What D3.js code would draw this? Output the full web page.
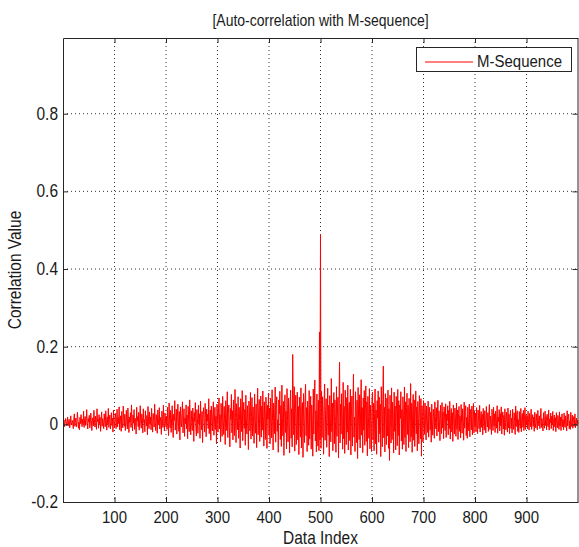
<!DOCTYPE html>
<html>
<head>
<meta charset="utf-8">
<script src="https://cdn.jsdelivr.net/npm/d3@7"></script>
<style>
  html, body { margin: 0; padding: 0; background: #fff; }
  svg text { font-family: "Liberation Sans", Arial, sans-serif; fill: #1a1a1a; }
</style>
</head>
<body>
<svg id="chart"></svg>
<script>
const width = 579;
const height = 547;
const margin = { top: 38, right: 1, bottom: 45, left: 63 };

const title = "[Auto-correlation with M-sequence]";
const xLabel = "Data Index";
const yLabel = "Correlation Value";
const seriesName = "M-Sequence";

const xTicks = [100, 200, 300, 400, 500, 600, 700, 800, 900];
const yTicks = [-0.2, 0, 0.2, 0.4, 0.6, 0.8];
const yTickLabels = ["-0.2", "0", "0.2", "0.4", "0.6", "0.8"];

// correlation values, data index 1..1000
const corr = [
  .004,.011,-.006,.002,.015,.008,-.003,.006,.019,-.004,
  .007,.013,-.009,.001,.022,.005,-.002,.010,.003,-.011,
  .014,.027,-.005,.009,.016,-.007,.004,.031,.012,-.010,
  .006,-.014,.018,.002,.025,.009,-.006,.013,.001,.034,
  -.008,.011,.020,-.003,.007,.038,.004,-.012,.015,.006,
  .023,-.009,.002,.029,.010,-.016,.008,.017,-.004,.036,
  .012,-.007,.021,.003,-.013,.040,.006,.014,-.010,.025,
  .001,.018,-.018,.009,.032,-.005,.015,.004,-.011,.027,
  .008,-.006,.035,.012,-.015,.019,.002,.041,-.008,.013,
  .024,-.012,.006,.030,-.003,.016,-.020,.037,.007,-.009,
  .014,.028,-.011,.005,.039,-.007,.018,.002,.045,-.014,
  .009,.022,-.018,.033,.004,-.009,.047,.012,-.005,.026,
  -.016,.008,.036,.001,-.012,.042,.015,-.021,.019,.006,
  .030,-.008,.050,.011,-.017,.024,.003,.038,-.013,.016,
  .007,-.025,.044,.009,.020,-.006,.031,-.015,.013,.048,
  .002,-.010,.027,.017,-.022,.040,.005,.012,-.019,.035,
  .010,-.004,.023,-.027,.046,.008,-.011,.032,.001,.019,
  -.014,.041,.006,-.020,.028,.013,-.007,.052,.004,-.016,
  .025,.009,-.023,.037,.015,-.002,.043,-.012,.018,.007,
  -.026,.034,.011,-.008,.049,.003,-.017,.029,.014,-.005,
  .021,-.013,.044,.008,-.029,.055,.012,-.009,.036,-.021,
  .017,.048,-.004,-.034,.026,.010,.061,-.015,.003,.039,
  -.025,.019,.052,.006,-.018,.033,-.040,.045,.014,-.007,
  .028,.058,-.022,.011,.040,-.031,.016,.002,.050,-.012,
  .024,-.037,.046,.009,-.019,.063,.013,-.027,.035,.005,
  -.016,.042,.020,-.044,.030,.007,.056,-.010,-.030,.038,
  .015,-.023,.049,.001,.027,-.036,.060,.012,-.014,.033,
  -.047,.022,.043,.004,-.020,.054,.018,-.032,.039,.008,
  .026,-.011,.066,-.024,.014,.037,-.041,.047,.010,-.017,
  .031,.058,-.028,.006,.044,-.013,.021,-.050,.052,.016,
  -.020,.037,.068,-.012,.025,-.045,.054,.009,-.031,.072,
  .015,-.026,.046,.003,-.052,.061,.019,-.016,.084,-.034,
  .028,.050,-.008,-.058,.041,.012,.077,-.022,.035,-.040,
  .063,.006,-.029,.090,.018,-.047,.053,.024,-.014,.071,
  -.036,.044,.010,-.061,.066,.031,-.019,.087,-.042,.026,
  .057,-.010,.038,-.054,.075,.014,-.025,.048,.002,-.065,
  .060,.033,-.017,.082,-.038,.021,.069,-.030,.045,.008,
  -.049,.078,.016,-.023,.052,-.060,.040,.093,-.027,.029,
  .064,-.044,.011,.073,-.033,.047,-.015,.086,.020,-.056,
  .058,.005,-.039,.070,.036,-.062,.049,.013,.080,-.028,
  .042,-.050,.067,.019,-.035,.089,.007,-.066,.055,.031,
  -.024,.096,-.046,.038,.071,-.018,.012,-.072,.063,.027,
  .085,-.039,.048,-.057,.101,.016,-.030,.059,-.080,.044,
  .076,-.021,.034,-.063,.092,.010,-.045,.068,.025,-.074,
  .053,.088,-.036,.040,-.058,.180,.064,-.027,.097,-.069,
  .030,.075,-.052,.014,.083,-.040,.046,-.078,.070,.022,
  -.033,.094,-.061,.037,.056,-.085,.079,.011,-.047,.066,
  .103,-.029,.043,-.070,.060,.018,-.054,.087,-.038,.032,
  .072,-.064,.050,.009,-.082,.091,-.025,.058,.114,-.043,
  .035,-.071,.078,.015,-.056,.062,-.068,.238,-.040,.490,
  -.062,.085,-.034,.071,.020,-.077,.058,.104,-.041,.036,
  .066,-.059,.012,.093,-.028,.049,-.083,.074,.027,-.045,
  .118,-.019,.055,-.068,.040,.082,-.050,.063,.008,-.072,
  .097,-.031,.045,.070,-.086,.061,.160,-.048,.052,-.025,
  .079,.014,-.064,.108,-.037,.046,-.075,.088,.030,-.052,
  .069,-.020,.101,-.066,.035,.057,-.042,.090,-.079,.024,
  .073,-.056,.047,.129,-.033,.018,-.070,.084,.039,-.047,
  .062,-.088,.095,.011,-.039,.076,-.061,.050,.115,-.028,
  .043,-.073,.068,-.015,.087,-.054,.031,.099,-.044,.058,
  -.081,.072,.020,-.036,.092,-.063,.049,.010,-.070,.065,
  .083,-.040,.054,-.068,.028,.091,-.050,.037,-.077,.061,
  .016,.086,-.046,.070,-.024,.052,-.083,.097,.033,-.058,
  .064,.150,-.035,.044,-.071,.079,.021,-.052,.068,-.030,
  .088,-.062,.040,-.093,.075,.012,-.048,.094,-.039,.057,
  .025,-.074,.083,-.018,.047,-.066,.072,.034,-.055,.090,
  -.029,.061,-.079,.050,.015,.084,-.043,.038,-.064,.071,
  .022,-.052,.096,-.034,.058,-.070,.043,.080,-.026,.049,
  -.060,.067,.011,-.045,.105,-.032,.054,-.072,.036,.077,
  -.041,.063,-.057,.029,.086,-.024,.045,-.068,.059,.014,
  -.050,.074,.032,-.037,.066,-.082,.048,.020,-.045,.061,
  .038,-.026,.055,.009,-.040,.047,.017,-.021,.060,-.033,
  .024,.044,-.015,.031,-.046,.052,.006,-.028,.039,.013,
  -.036,.058,.020,-.012,.043,-.030,.027,.062,-.019,.035,
  .004,-.042,.049,.015,-.024,.056,-.009,.032,-.037,.045,
  .019,-.016,.053,-.034,.026,.010,.048,-.027,.036,-.011,
  .059,-.038,.022,.041,-.020,.030,-.044,.050,.007,-.025,
  .042,.016,-.031,.055,-.013,.037,-.039,.028,.046,-.018,
  .021,-.035,.051,.003,-.023,.040,.014,-.041,.057,-.010,
  .033,.048,-.029,.018,-.036,.044,.008,-.017,.052,-.032,
  .025,.039,-.014,.047,-.027,.012,.054,-.022,.034,-.006,
  .029,-.019,.043,.006,-.024,.037,.014,-.011,.049,-.020,
  .018,.033,-.008,.026,-.027,.041,.004,-.015,.035,.010,
  -.022,.046,.012,-.007,.030,-.018,.024,.051,-.013,.021,
  .002,-.026,.039,.009,-.016,.044,-.005,.027,-.021,.034,
  .013,-.010,.048,-.023,.019,.007,.038,-.017,.028,-.004,
  .045,-.025,.015,.032,-.012,.023,-.028,.040,.005,-.014,
  .031,.011,-.020,.042,-.009,.026,-.024,.020,.036,-.011,
  .016,-.022,.039,.001,-.013,.030,.008,-.026,.047,-.006,
  .024,.035,-.018,.012,-.021,.033,.005,-.010,.041,-.019,
  .017,.028,-.008,.036,-.016,.009,.043,-.013,.025,-.002,
  .022,-.012,.034,.004,-.015,.028,.010,-.006,.039,-.013,
  .013,.025,-.005,.019,-.018,.031,.002,-.009,.027,.007,
  -.014,.036,.009,-.004,.022,-.011,.017,.041,-.008,.015,
  .001,-.017,.030,.006,-.010,.034,-.003,.020,-.014,.026,
  .010,-.006,.037,-.015,.014,.004,.029,-.011,.021,-.002,
  .033,-.016,.011,.024,-.007,.017,-.019,.030,.003,-.009,
  .023,.008,-.013,.032,-.005,.019,-.016,.014,.027,-.007,
  .012,-.014,.029,.001,-.008,.022,.006,-.017,.035,-.004,
  .018,.026,-.011,.009,-.013,.031,.003,-.006,.024,-.010,
  .013,.020,-.005,.027,-.009,.007,.016,-.004,.010,.002
];

const svg = d3.select("#chart").attr("width", width).attr("height", height);

const x = d3.scaleLinear().domain([0, 1000]).range([margin.left, width - margin.right]);
const y = d3.scaleLinear().domain([-0.2, 0.995]).range([height - margin.bottom, margin.top]);

const axisColor = "#262626";
const stretch = 1.15; // text in the picture is a bit taller than wide

// text with a slight vertical stretch
const addText = (g, px, py, str, size, anchor, rotate) => {
  g.append("text")
    .attr("transform", `translate(${px},${py})${rotate ? " rotate(-90)" : ""} scale(1,${stretch})`)
    .attr("text-anchor", anchor)
    .style("font-size", size + "px")
    .text(str);
};

// grid
svg.append("g")
  .selectAll("line")
  .data(xTicks)
  .join("line")
  .attr("x1", (d) => x(d)).attr("x2", (d) => x(d))
  .attr("y1", y.range()[1]).attr("y2", y.range()[0])
  .attr("stroke", "#333").attr("stroke-dasharray", "1,3");

svg.append("g")
  .selectAll("line")
  .data(yTicks.slice(1))
  .join("line")
  .attr("x1", x.range()[0]).attr("x2", x.range()[1])
  .attr("y1", (d) => y(d)).attr("y2", (d) => y(d))
  .attr("stroke", "#333").attr("stroke-dasharray", "1,3");

// series
const line = d3.line()
  .x((d, i) => x(i + 1))
  .y((d) => y(d));

svg.append("path")
  .datum(corr)
  .attr("fill", "none")
  .attr("stroke", "#ff0000")
  .attr("stroke-width", 1)
  .attr("d", line);

// axes, ticks pointing inward
const styleAxis = (g) => {
  g.selectAll("path, line").attr("stroke", axisColor);
  g.selectAll("text").remove();
};

svg.append("g")
  .attr("transform", `translate(0,${y.range()[0]})`)
  .call(d3.axisBottom(x).tickValues(xTicks).tickSizeInner(-5).tickSizeOuter(0))
  .call(styleAxis);
svg.append("g")
  .attr("transform", `translate(0,${y.range()[1]})`)
  .call(d3.axisTop(x).tickValues(xTicks).tickSizeInner(-5).tickSizeOuter(0))
  .call(styleAxis);
svg.append("g")
  .attr("transform", `translate(${x.range()[0]},0)`)
  .call(d3.axisLeft(y).tickValues(yTicks).tickSizeInner(-5).tickSizeOuter(0))
  .call(styleAxis);
svg.append("g")
  .attr("transform", `translate(${x.range()[1] - 0.5},0)`)
  .call(d3.axisRight(y).tickValues(yTicks).tickSizeInner(-5).tickSizeOuter(0))
  .call(styleAxis);

// tick labels
const labels = svg.append("g");
xTicks.forEach((d) => addText(labels, x(d), y.range()[0] + 21, d, 15, "middle"));
yTicks.forEach((d, i) => addText(labels, x.range()[0] - 5, y(d) + 6, yTickLabels[i], 15.5, "end"));

// title and axis labels
addText(svg, (x.range()[0] + x.range()[1]) / 2, 26, title, 14, "middle");
addText(svg, (x.range()[0] + x.range()[1]) / 2, 544, xLabel, 15.5, "middle");
addText(svg, 21, (y.range()[0] + y.range()[1]) / 2, yLabel, 15.5, "middle", true);

// legend
const legend = svg.append("g");
legend.append("rect")
  .attr("x", 416.5).attr("y", 47.5)
  .attr("width", 155).attr("height", 24)
  .attr("fill", "#fff").attr("stroke", axisColor);
legend.append("line")
  .attr("x1", 425).attr("x2", 473)
  .attr("y1", 62).attr("y2", 62)
  .attr("stroke", "#ff0000");
addText(legend, 477, 67, seriesName, 15, "start");
</script>
</body>
</html>
